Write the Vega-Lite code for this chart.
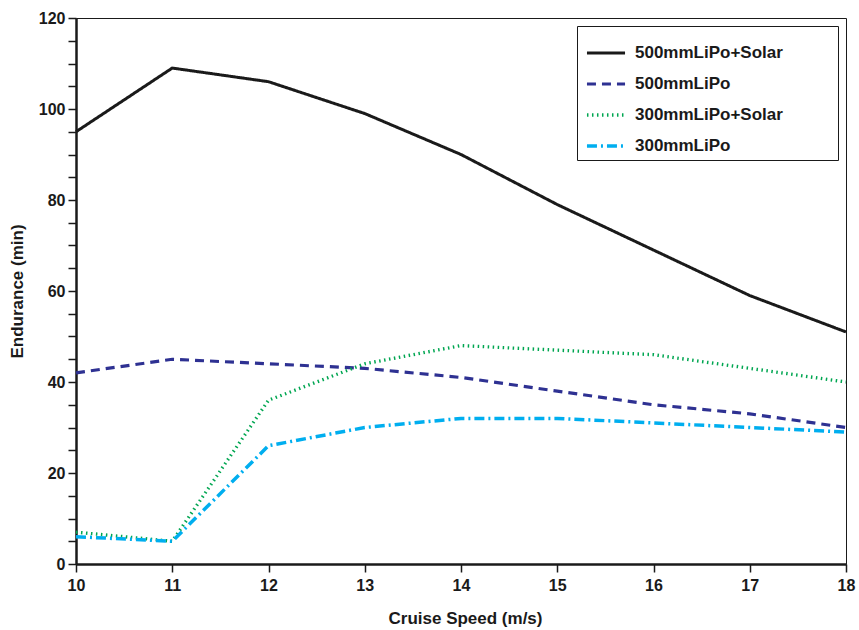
{
  "$schema": "https://vega.github.io/schema/vega-lite/v6.json",
  "width": 770,
  "height": 546,
  "autosize": {"type": "none"},
  "padding": {"left": 76, "top": 18, "right": 13, "bottom": 66},
  "background": "white",
  "config": {
    "font": "Liberation Sans",
    "view": {"stroke": "#1a1a1a", "strokeWidth": 1}
  },
  "data": {
    "values": [
      {"speed": 10, "endurance": 95, "series": "500mmLiPo+Solar"},
      {"speed": 11, "endurance": 109, "series": "500mmLiPo+Solar"},
      {"speed": 12, "endurance": 106, "series": "500mmLiPo+Solar"},
      {"speed": 13, "endurance": 99, "series": "500mmLiPo+Solar"},
      {"speed": 14, "endurance": 90, "series": "500mmLiPo+Solar"},
      {"speed": 15, "endurance": 79, "series": "500mmLiPo+Solar"},
      {"speed": 16, "endurance": 69, "series": "500mmLiPo+Solar"},
      {"speed": 17, "endurance": 59, "series": "500mmLiPo+Solar"},
      {"speed": 18, "endurance": 51, "series": "500mmLiPo+Solar"},
      {"speed": 10, "endurance": 42, "series": "500mmLiPo"},
      {"speed": 11, "endurance": 45, "series": "500mmLiPo"},
      {"speed": 12, "endurance": 44, "series": "500mmLiPo"},
      {"speed": 13, "endurance": 43, "series": "500mmLiPo"},
      {"speed": 14, "endurance": 41, "series": "500mmLiPo"},
      {"speed": 15, "endurance": 38, "series": "500mmLiPo"},
      {"speed": 16, "endurance": 35, "series": "500mmLiPo"},
      {"speed": 17, "endurance": 33, "series": "500mmLiPo"},
      {"speed": 18, "endurance": 30, "series": "500mmLiPo"},
      {"speed": 10, "endurance": 7, "series": "300mmLiPo+Solar"},
      {"speed": 11, "endurance": 5, "series": "300mmLiPo+Solar"},
      {"speed": 12, "endurance": 36, "series": "300mmLiPo+Solar"},
      {"speed": 13, "endurance": 44, "series": "300mmLiPo+Solar"},
      {"speed": 14, "endurance": 48, "series": "300mmLiPo+Solar"},
      {"speed": 15, "endurance": 47, "series": "300mmLiPo+Solar"},
      {"speed": 16, "endurance": 46, "series": "300mmLiPo+Solar"},
      {"speed": 17, "endurance": 43, "series": "300mmLiPo+Solar"},
      {"speed": 18, "endurance": 40, "series": "300mmLiPo+Solar"},
      {"speed": 10, "endurance": 6, "series": "300mmLiPo"},
      {"speed": 11, "endurance": 5, "series": "300mmLiPo"},
      {"speed": 12, "endurance": 26, "series": "300mmLiPo"},
      {"speed": 13, "endurance": 30, "series": "300mmLiPo"},
      {"speed": 14, "endurance": 32, "series": "300mmLiPo"},
      {"speed": 15, "endurance": 32, "series": "300mmLiPo"},
      {"speed": 16, "endurance": 31, "series": "300mmLiPo"},
      {"speed": 17, "endurance": 30, "series": "300mmLiPo"},
      {"speed": 18, "endurance": 29, "series": "300mmLiPo"}
    ]
  },
  "mark": {"type": "line", "strokeCap": "butt"},
  "encoding": {
    "x": {
      "field": "speed", "type": "quantitative",
      "scale": {"domain": [10, 18], "nice": false, "zero": false},
      "axis": {
        "title": "Cruise Speed (m/s)",
        "values": [10, 10.5, 11, 11.5, 12, 12.5, 13, 13.5, 14, 14.5, 15, 15.5, 16, 16.5, 17, 17.5, 18],
        "format": "d",
        "labelExpr": "datum.value % 1 === 0 ? datum.label : ''",
        "labelFlush": false,
        "labelOverlap": false,
        "grid": false,
        "domainColor": "#1a1a1a", "domainWidth": 2.5,
        "tickColor": "#1a1a1a", "tickWidth": 1.5, "tickSize": 8,
        "labelFont": "Liberation Sans", "labelFontWeight": "bold", "labelFontSize": 16, "labelColor": "#1a1a1a", "labelPadding": 5,
        "titleFont": "Liberation Sans", "titleFontWeight": "bold", "titleFontSize": 17, "titleColor": "#1a1a1a", "titlePadding": 17,
        "titleX": 389, "titleAnchor": "middle"
      }
    },
    "y": {
      "field": "endurance", "type": "quantitative",
      "scale": {"domain": [0, 120], "nice": false},
      "axis": {
        "title": "Endurance (min)",
        "values": [0, 5, 10, 15, 20, 25, 30, 35, 40, 45, 50, 55, 60, 65, 70, 75, 80, 85, 90, 95, 100, 105, 110, 115, 120],
        "format": "d",
        "labelExpr": "datum.value % 20 === 0 ? datum.label : ''",
        "labelFlush": false,
        "labelOverlap": false,
        "grid": false,
        "domainColor": "#1a1a1a", "domainWidth": 2.5,
        "tickColor": "#1a1a1a", "tickWidth": 1.5, "tickSize": 8,
        "labelFont": "Liberation Sans", "labelFontWeight": "bold", "labelFontSize": 16, "labelColor": "#1a1a1a", "labelPadding": 3,
        "titleFont": "Liberation Sans", "titleFontWeight": "bold", "titleFontSize": 17, "titleColor": "#1a1a1a", "titlePadding": 12
      }
    },
    "color": {
      "field": "series", "type": "nominal",
      "scale": {
        "domain": ["500mmLiPo+Solar", "500mmLiPo", "300mmLiPo+Solar", "300mmLiPo"],
        "range": ["#1a1a1a", "#2e3192", "#00a651", "#00aeef"]
      },
      "legend": {
        "title": "\u00a0",
        "titleOrient": "right",
        "titlePadding": 49,
        "titleFontSize": 17,
        "orient": "top-right",
        "offset": 8,
        "strokeColor": "#1a1a1a",
        "fillColor": "white",
        "padding": 6,
        "symbolType": "stroke",
        "symbolSize": 1450,
        "symbolStrokeWidth": 3,
        "symbolOffset": 2,
        "labelFont": "Liberation Sans", "labelFontWeight": "bold", "labelFontSize": 17, "labelColor": "#1a1a1a",
        "labelLimit": 400,
        "rowPadding": 2,
        "labelOffset": 8
      }
    },
    "strokeDash": {
      "field": "series", "type": "nominal",
      "scale": {
        "domain": ["500mmLiPo+Solar", "500mmLiPo", "300mmLiPo+Solar", "300mmLiPo"],
        "range": [[1, 0], [9, 6], [1.5, 3.5], [10, 4, 2, 4]]
      },
      "legend": {
        "title": "\u00a0",
        "titleOrient": "right",
        "titlePadding": 49,
        "titleFontSize": 17,
        "orient": "top-right",
        "offset": 8,
        "strokeColor": "#1a1a1a",
        "fillColor": "white",
        "padding": 6,
        "symbolType": "stroke",
        "symbolSize": 1450,
        "symbolStrokeWidth": 3,
        "symbolOffset": 2,
        "labelFont": "Liberation Sans", "labelFontWeight": "bold", "labelFontSize": 17, "labelColor": "#1a1a1a",
        "labelLimit": 400,
        "rowPadding": 2,
        "labelOffset": 8
      }
    },
    "strokeWidth": {
      "field": "series", "type": "nominal",
      "scale": {
        "domain": ["500mmLiPo+Solar", "500mmLiPo", "300mmLiPo+Solar", "300mmLiPo"],
        "range": [3, 3.5, 1.8, 3.5]
      },
      "legend": null
    }
  }
}
